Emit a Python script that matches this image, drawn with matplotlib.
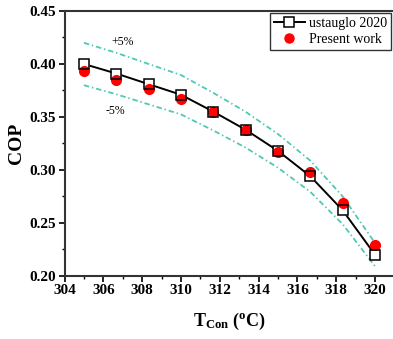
import matplotlib
matplotlib.use("Agg")
import matplotlib.pyplot as plt
from matplotlib.lines import Line2D
from matplotlib.ticker import MultipleLocator
import numpy as np

# Data
t_con = [305.0, 306.67, 308.33, 310.0, 311.67, 313.33, 315.0, 316.67, 318.33, 320.0]
cop_ustauglo = [0.400, 0.391, 0.381, 0.371, 0.355, 0.338, 0.318, 0.294, 0.262, 0.220]
cop_present = [0.393, 0.385, 0.376, 0.367, 0.355, 0.338, 0.317, 0.298, 0.269, 0.229]
band_upper = [v * 1.05 for v in cop_ustauglo]
band_lower = [v * 0.95 for v in cop_ustauglo]
xticks = [304, 306, 308, 310, 312, 314, 316, 318, 320]
yticks = [0.20, 0.25, 0.30, 0.35, 0.40, 0.45]

plt.rcParams['font.family'] = ['Liberation Serif', 'DejaVu Serif']
plt.rcParams['mathtext.fontset'] = 'custom'
plt.rcParams['mathtext.rm'] = 'Liberation Serif'
plt.rcParams['mathtext.bf'] = 'Liberation Serif:bold'

fig = plt.figure(figsize=(3.93, 3.39), dpi=100)
ax = fig.add_axes([64.5 / 393, (339 - 276) / 339, (394.5 - 64.5) / 393, (276 - 11) / 339])

band_color = '#4fc8b4'
band_ls = (0, (3, 1.6, 0.8, 1.6))
ax.plot(t_con, band_upper, color=band_color, lw=1.3, ls=band_ls, zorder=1)
ax.plot(t_con, band_lower, color=band_color, lw=1.3, ls=band_ls, zorder=1)

ax.plot(t_con, cop_ustauglo, color='black', lw=1.4, zorder=2)
ax.plot(t_con, cop_ustauglo, ls='none', marker='s', ms=7, mfc='white', mec='none', zorder=3)
ax.plot(t_con, cop_present, ls='none', marker='o', ms=7, mfc='red', mec='red', zorder=4)
ax.plot(t_con, cop_ustauglo, ls='none', marker='s', ms=7, mfc='none', mec='black', mew=1.1, zorder=5)

ax.text(307.0, 0.421, '+5%', fontsize=8.5, ha='center', va='center')
ax.text(306.6, 0.3555, '-5%', fontsize=8.5, ha='center', va='center')

ax.set_xlim(304, 321)
ax.set_ylim(0.20, 0.45)
ax.set_xticks(xticks)
ax.set_yticks(yticks)
ax.set_xticklabels([str(v) for v in xticks])
ax.set_yticklabels([f'{v:.2f}' for v in yticks])
ax.xaxis.set_minor_locator(MultipleLocator(1))
ax.yaxis.set_minor_locator(MultipleLocator(0.025))
ax.tick_params(which='major', direction='out', length=4, width=1.2, labelsize=11, pad=2)
ax.tick_params(which='minor', direction='out', length=2, width=1.0)
for lab in ax.get_xticklabels() + ax.get_yticklabels():
    lab.set_fontweight('bold')
for s in ax.spines.values():
    s.set_linewidth(1.5)
    s.set_color('#333333')
ax.spines['right'].set_visible(False)

ax.set_ylabel('COP', fontsize=14, fontweight='bold', labelpad=3)
ax.set_xlabel(r'$\mathbf{T_{Con}}$ $\mathbf{(^{o}C)}$', fontsize=13, labelpad=10)

handles = [
    Line2D([], [], color='black', lw=1.4, marker='s', ms=7, mfc='white', mec='black', mew=1.1),
    Line2D([], [], ls='none', marker='o', ms=6.5, mfc='red', mec='red'),
]
leg = ax.legend(handles, ['ustauglo 2020', 'Present work'], loc='upper right',
                bbox_to_anchor=(391 / 393, 1 - 13 / 339), bbox_transform=fig.transFigure,
                fontsize=10, frameon=True, fancybox=False, handlelength=2.2,
                handletextpad=0.3, borderpad=0.3, labelspacing=0.2, borderaxespad=0)
leg.get_frame().set_edgecolor('black')
leg.get_frame().set_linewidth(1.0)

fig.savefig('out.png', dpi=100)
